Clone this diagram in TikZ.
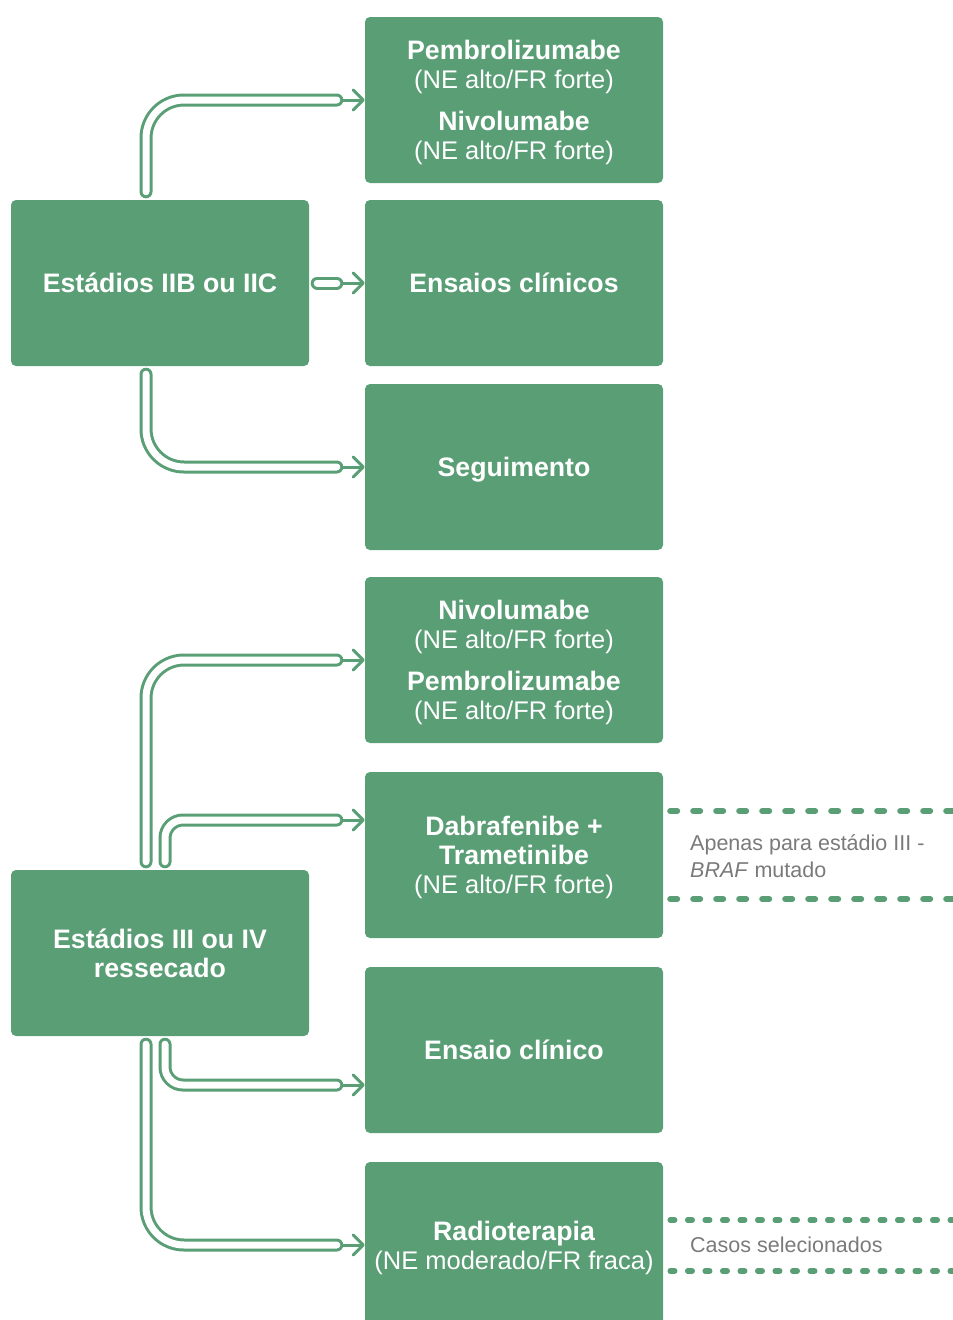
\documentclass[tikz,border=0pt]{standalone}
\usepackage{fontspec}
\setmainfont{Liberation Sans}
\usetikzlibrary{arrows.meta,calc}
\definecolor{boxgreen}{RGB}{90,158,118}
\definecolor{notegray}{RGB}{122,122,122}
\newcommand{\nivel}[1]{{\mdseries\fontsize{25.5}{29}\selectfont #1}}

\begin{document}
\begin{tikzpicture}[x=1pt,y=-1pt,
      box/.style={fill=boxgreen,rounded corners=5pt,minimum width=298pt,
        minimum height=166pt,inner sep=0pt,align=center,text=white,
        text depth=-2pt,font=\bfseries\fontsize{26.7}{29}\selectfont},
      tube/.style={draw=boxgreen,line width=3pt,double=white,
        double distance=7pt,line cap=round,rounded corners=38pt},
      tip/.style={draw=boxgreen,line width=3pt,line cap=round,
        -{Straight Barb[length=10pt,width=20pt,line cap=round,line join=round]}},
      dots/.style={draw=boxgreen,line width=6pt,line cap=round,
        dash pattern=on 7pt off 16pt},
      note/.style={anchor=west,align=left,text=notegray,inner sep=0pt,
        font=\fontsize{21.5}{27}\selectfont}]
    \useasboundingbox (0,0) rectangle (953,1320);
    \clip (0,0) rectangle (953,1320);

    % estadios IIB / IIC
    \node[box] (stage2) at (160,283) {Estádios IIB ou IIC};
    \node[box] (imuno2) at (514,100) {Pembrolizumabe\\\nivel{(NE alto/FR forte)}\\[13pt]
      Nivolumabe\\\nivel{(NE alto/FR forte)}};
    \node[box] (trials2) at (514,283) {Ensaios clínicos};
    \node[box] (follow) at (514,467) {Seguimento};

    \draw[tip] ([xshift=-28]imuno2.west) -- (imuno2.west);
    \draw[tip] ([xshift=-28]trials2.west) -- (trials2.west);
    \draw[tip] ([xshift=-28]follow.west) -- (follow.west);
    \draw[tube] ([xshift=-14,yshift=8]stage2.north) |- ([xshift=-28]imuno2.west);
    \draw[tube] ([xshift=8]stage2.east) -- ([xshift=-28]trials2.west);
    \draw[tube] ([xshift=-14,yshift=-8]stage2.south) |- ([xshift=-28]follow.west);

    % estadios III / IV
    \node[box] (stage3) at (160,953) {Estádios III ou IV\\ressecado};
    \node[box] (imuno3) at (514,660) {Nivolumabe\\\nivel{(NE alto/FR forte)}\\[13pt]
      Pembrolizumabe\\\nivel{(NE alto/FR forte)}};
    \node[box] (dabra) at (514,855) {Dabrafenibe +\\Trametinibe\\\nivel{(NE alto/FR forte)}};
    \node[box] (trial3) at (514,1050) {Ensaio clínico};
    \node[box] (radio) at (514,1245) {Radioterapia\\\nivel{(NE moderado/FR fraca)}};

    \draw[tip] ([xshift=-28]imuno3.west) -- (imuno3.west);
    \draw[tip] ([xshift=-28,yshift=35]dabra.west) -- ([yshift=35]dabra.west);
    \draw[tip] ([xshift=-28,yshift=-35]trial3.west) -- ([yshift=-35]trial3.west);
    \draw[tip] ([xshift=-28]radio.west) -- (radio.west);
    \draw[tube] ([xshift=-14,yshift=8]stage3.north) |- ([xshift=-28]imuno3.west);
    \draw[tube,rounded corners=18pt] ([xshift=5,yshift=8]stage3.north)
      |- ([xshift=-28,yshift=35]dabra.west);
    \draw[tube,rounded corners=18pt] ([xshift=5,yshift=-8]stage3.south)
      |- ([xshift=-28,yshift=-35]trial3.west);
    \draw[tube] ([xshift=-14,yshift=-8]stage3.south) |- ([xshift=-28]radio.west);

    % notas laterais
    \draw[dots] ([xshift=7,yshift=44]dabra.east) -- ++(300,0);
    \draw[dots] ([xshift=7,yshift=-44]dabra.east) -- ++(300,0);
    \node[note] (brafnote) at (690,856) {Apenas para estádio III -\\\textit{BRAF} mutado};

    \draw[dots,line width=5.5pt,dash pattern=on 4.5pt off 13pt]
      ([xshift=7,yshift=25]radio.east) -- ++(300,0);
    \draw[dots,line width=5.5pt,dash pattern=on 4.5pt off 13pt]
      ([xshift=7,yshift=-26]radio.east) -- ++(300,0);
    \node[note] (selnote) at (690,1245) {Casos selecionados};
  \end{tikzpicture}
\end{document}
